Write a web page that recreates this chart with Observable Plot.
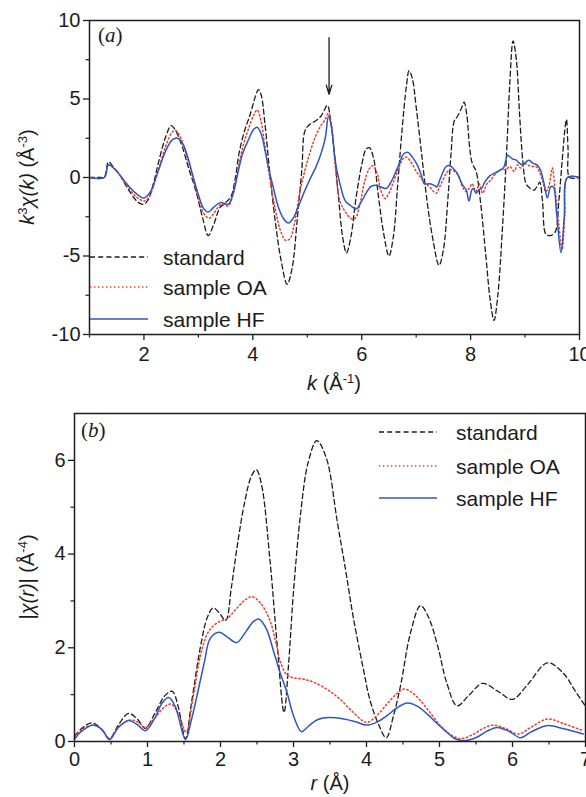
<!DOCTYPE html>
<html>
<head>
<meta charset="utf-8">
<script src="https://cdn.jsdelivr.net/npm/d3@7"></script>
<script src="https://cdn.jsdelivr.net/npm/@observablehq/plot@0.6"></script>
<style>
  html, body { margin: 0; padding: 0; background: #fff; }
  #root { position: relative; width: 586px; height: 797px; overflow: hidden; font-family: "Liberation Sans", Arial, sans-serif; }
  .panel { position: absolute; left: 0; }
  #overlay { position: absolute; left: 0; top: 0; pointer-events: none; }
</style>
</head>
<body>
<div id="root">
  <div id="pa" class="panel" style="top:0px"></div>
  <div id="pb" class="panel" style="top:395px"></div>
  <svg id="overlay" width="586" height="797"></svg>
</div>
<script>
// ---------- Panel (a): k^3 chi(k) ----------
const kTicks = [2, 4, 6, 8, 10];
const kMinor = [1, 3, 5, 7, 9];
const chiTicks = [-10, -5, 0, 5, 10];
const chiMinor = [-7.5, -2.5, 2.5, 7.5];
const arrowMark = [{k: 5.4, from: 8.9, to: 5.3}];

const standardA = [[1.0,0],[1.2,0],[1.27,0],[1.35,1.0],[1.45,0.6],[1.55,0.2],[1.72,-0.8],[1.9,-1.6],[2.0,-1.7],[2.08,-1.4],[2.18,-0.3],[2.27,1.0],[2.4,2.6],[2.5,3.3],[2.58,3.0],[2.7,2.0],[2.82,0.6],[2.95,-0.8],[3.08,-2.6],[3.18,-3.7],[3.28,-3.0],[3.4,-1.9],[3.5,-1.6],[3.6,-1.2],[3.68,0],[3.75,1.6],[3.85,3.0],[3.95,4.0],[4.05,5.2],[4.1,5.6],[4.15,5.3],[4.22,3.5],[4.32,0],[4.42,-3.0],[4.52,-5.3],[4.63,-6.8],[4.72,-5.8],[4.82,-2.5],[4.9,0.5],[4.96,3.0],[5.05,3.4],[5.15,3.6],[5.25,3.9],[5.3,4.2],[5.37,4.6],[5.43,3.6],[5.5,1.5],[5.58,-1.5],[5.65,-3.8],[5.72,-4.8],[5.8,-3.8],[5.9,-1.2],[6.0,0.8],[6.08,1.8],[6.14,1.9],[6.22,1.2],[6.3,-1.0],[6.4,-3.5],[6.5,-5.0],[6.58,-3.8],[6.66,-0.5],[6.74,3.0],[6.82,5.8],[6.87,6.8],[6.93,6.3],[7.0,4.5],[7.1,1.5],[7.2,-1.5],[7.3,-3.8],[7.42,-5.6],[7.5,-4.6],[7.58,-1.5],[7.64,1.5],[7.7,3.6],[7.76,3.9],[7.83,4.4],[7.88,4.8],[7.93,4.0],[7.98,2.0],[8.03,0.9],[8.1,0.4],[8.18,-1.5],[8.28,-5.0],[8.36,-7.8],[8.43,-9.1],[8.5,-7.5],[8.58,-3.5],[8.66,1.5],[8.72,6.0],[8.78,8.7],[8.84,7.5],[8.9,4.0],[8.96,1.0],[9.02,-0.4],[9.1,-0.7],[9.17,-0.8],[9.23,-0.5],[9.27,-0.3],[9.32,-1.5],[9.38,-3.6],[9.45,-3.7],[9.55,-3.5],[9.62,-1.5],[9.68,1.0],[9.73,3.0],[9.76,3.7],[9.79,1.8],[9.82,0],[10,0]];

const sampleOA_A = [[1.0,0],[1.27,0],[1.35,0.8],[1.5,0.4],[1.66,-0.4],[1.85,-1.2],[2.0,-1.5],[2.1,-1.2],[2.25,0.3],[2.4,2.0],[2.52,2.9],[2.58,3.0],[2.68,2.5],[2.8,1.2],[2.9,0],[3.0,-1.3],[3.1,-2.3],[3.2,-2.6],[3.3,-2.2],[3.42,-1.7],[3.55,-1.8],[3.64,-1.0],[3.72,0.4],[3.82,2.0],[3.92,3.1],[4.02,4.0],[4.08,4.3],[4.15,3.6],[4.22,2.0],[4.3,0.2],[4.4,-1.8],[4.5,-3.3],[4.6,-4.0],[4.68,-3.9],[4.76,-3.0],[4.86,-1.0],[4.96,0.5],[5.05,1.6],[5.15,2.6],[5.25,3.3],[5.33,3.7],[5.39,4.1],[5.45,3.2],[5.52,0.5],[5.6,-1.5],[5.7,-2.2],[5.8,-2.6],[5.88,-2.6],[5.96,-1.8],[6.05,-0.3],[6.13,0.5],[6.2,0.75],[6.28,0.3],[6.35,-0.8],[6.43,-1.35],[6.5,-1.0],[6.58,-0.3],[6.68,0.6],[6.76,1.2],[6.82,1.3],[6.9,1.0],[7.0,0.4],[7.08,0],[7.15,-0.3],[7.25,-0.6],[7.32,-0.9],[7.37,-1.0],[7.43,-0.6],[7.5,-0.1],[7.56,0.3],[7.62,0.5],[7.7,0.4],[7.78,0.1],[7.85,-0.6],[7.92,-0.9],[7.97,-0.7],[8.03,-0.4],[8.1,-0.9],[8.16,-0.4],[8.22,-1.0],[8.3,-0.4],[8.36,-0.2],[8.45,0.2],[8.55,0.5],[8.65,0.5],[8.72,0.7],[8.8,0.4],[8.86,0.8],[8.92,0.6],[8.98,0.9],[9.05,0.8],[9.12,0.7],[9.2,0.7],[9.27,0.3],[9.33,-0.3],[9.38,-0.9],[9.44,-0.5],[9.5,0.6],[9.55,-0.7],[9.62,-3.0],[9.68,-4.6],[9.73,-2.4],[9.78,0],[10,0]];

const sampleHF_A = [[1.0,0],[1.27,0],[1.35,0.8],[1.5,0.4],[1.66,-0.3],[1.85,-1.0],[2.0,-1.3],[2.12,-0.9],[2.27,0.5],[2.4,1.7],[2.52,2.4],[2.62,2.5],[2.72,2.1],[2.8,1.35],[2.9,0.1],[3.0,-1.1],[3.1,-2.0],[3.18,-2.2],[3.28,-1.9],[3.4,-1.6],[3.55,-1.7],[3.64,-1.0],[3.72,0.2],[3.81,1.5],[3.92,2.4],[4.0,3.0],[4.08,3.2],[4.15,2.8],[4.22,1.8],[4.29,0.6],[4.38,-0.7],[4.47,-1.9],[4.56,-2.6],[4.65,-2.9],[4.74,-2.6],[4.83,-1.9],[4.96,-0.8],[5.05,-0.1],[5.15,0.6],[5.25,1.5],[5.33,2.5],[5.39,3.9],[5.44,3.3],[5.52,0.9],[5.6,-0.4],[5.7,-1.5],[5.8,-1.8],[5.9,-2.0],[6.0,-1.5],[6.08,-1.0],[6.16,-0.6],[6.24,-0.5],[6.35,-0.6],[6.45,-0.7],[6.52,-0.4],[6.58,0],[6.68,0.8],[6.77,1.5],[6.85,1.6],[6.93,1.3],[7.02,0.8],[7.1,0.1],[7.15,-0.4],[7.25,-0.4],[7.33,-0.5],[7.38,-0.6],[7.43,-0.2],[7.5,0.4],[7.55,0.7],[7.62,0.75],[7.7,0.5],[7.75,0.3],[7.84,-0.4],[7.92,-0.8],[7.97,-1.5],[8.02,-0.8],[8.05,-0.7],[8.1,-1.0],[8.15,-0.8],[8.2,-0.7],[8.26,-0.3],[8.35,0.1],[8.45,0.3],[8.6,0.6],[8.68,1.4],[8.76,1.2],[8.84,1.1],[8.9,0.9],[8.96,0.8],[9.02,1.0],[9.07,1.1],[9.15,0.9],[9.22,0.8],[9.28,0.5],[9.35,-0.4],[9.41,-1.3],[9.47,-0.6],[9.52,-0.6],[9.58,-2.3],[9.66,-4.8],[9.72,-2.5],[9.78,0],[10,0]];

// ---------- Panel (b): |chi(r)| ----------
const rTicks = [0, 1, 2, 3, 4, 5, 6, 7];
const rMinor = [0.5, 1.5, 2.5, 3.5, 4.5, 5.5, 6.5];
const magTicks = [0, 2, 4, 6];
const magMinor = [1, 3, 5];

const standardB = [[0,0.12],[0.1,0.28],[0.24,0.4],[0.36,0.28],[0.48,0.06],[0.6,0.35],[0.74,0.6],[0.86,0.48],[0.97,0.28],[1.1,0.6],[1.24,0.98],[1.34,1.07],[1.42,0.75],[1.52,0.06],[1.6,0.8],[1.73,2.06],[1.82,2.65],[1.9,2.85],[1.98,2.75],[2.07,2.58],[2.15,3.3],[2.23,4.18],[2.33,5.1],[2.42,5.65],[2.49,5.8],[2.56,5.5],[2.68,3.83],[2.78,2.0],[2.87,0.62],[2.93,1.6],[3.0,3.2],[3.1,4.9],[3.2,5.95],[3.32,6.42],[3.45,6.05],[3.6,4.69],[3.72,3.6],[3.82,2.64],[3.95,1.6],[4.05,0.87],[4.17,0.35],[4.27,0.08],[4.37,0.55],[4.47,1.22],[4.6,2.3],[4.74,2.9],[4.85,2.65],[4.97,2.07],[5.1,1.25],[5.24,0.76],[5.4,0.98],[5.59,1.24],[5.8,1.07],[6.0,0.9],[6.2,1.2],[6.48,1.68],[6.7,1.45],[6.85,1.1],[7.0,0.75]];

const sampleOA_B = [[0,0.1],[0.1,0.25],[0.25,0.35],[0.37,0.26],[0.48,0.06],[0.6,0.3],[0.77,0.46],[0.88,0.4],[0.97,0.3],[1.1,0.5],[1.22,0.72],[1.32,0.8],[1.42,0.6],[1.53,0.2],[1.62,0.9],[1.72,1.8],[1.82,2.3],[1.91,2.48],[2.0,2.57],[2.09,2.62],[2.2,2.8],[2.32,3.0],[2.43,3.09],[2.55,2.95],[2.68,2.57],[2.76,2.1],[2.82,1.7],[2.91,1.42],[3.0,1.36],[3.14,1.33],[3.3,1.25],[3.48,1.09],[3.64,0.9],[3.8,0.65],[4.0,0.41],[4.14,0.55],[4.28,0.8],[4.4,1.0],[4.51,1.12],[4.62,1.05],[4.74,0.87],[4.88,0.6],[5.01,0.34],[5.15,0.15],[5.29,0.06],[5.47,0.16],[5.6,0.28],[5.74,0.35],[5.9,0.28],[6.08,0.16],[6.25,0.3],[6.48,0.48],[6.7,0.38],[6.97,0.23]];

const sampleHF_B = [[0,0.05],[0.1,0.22],[0.26,0.35],[0.38,0.25],[0.48,0.04],[0.6,0.3],[0.74,0.45],[0.86,0.36],[0.97,0.23],[1.1,0.5],[1.2,0.82],[1.29,0.94],[1.38,0.75],[1.52,0.04],[1.6,0.45],[1.68,0.99],[1.78,1.7],[1.86,2.2],[1.98,2.33],[2.1,2.22],[2.22,2.11],[2.35,2.35],[2.45,2.56],[2.53,2.61],[2.63,2.4],[2.73,1.91],[2.82,1.45],[2.91,1.05],[3.0,0.55],[3.11,0.21],[3.2,0.32],[3.32,0.46],[3.48,0.51],[3.69,0.48],[3.85,0.42],[4.0,0.35],[4.15,0.42],[4.28,0.55],[4.42,0.72],[4.56,0.82],[4.7,0.75],[4.83,0.59],[4.97,0.38],[5.1,0.2],[5.2,0.07],[5.3,0.02],[5.4,0.03],[5.51,0.09],[5.65,0.22],[5.79,0.3],[5.95,0.22],[6.11,0.08],[6.25,0.2],[6.48,0.34],[6.7,0.27],[6.97,0.16]];

const seriesNames = ["standard", "sample OA", "sample HF"];

// ---------- styles ----------
const INK = "#1c1c1c";
const seriesStyle = {
  "standard":  {stroke: "#1c1c1c", strokeWidth: 1.3, strokeDasharray: "5,3.2"},
  "sample OA": {stroke: "#ef3b2c", strokeWidth: 1.5, strokeDasharray: "1.4,2.6"},
  "sample HF": {stroke: "#2f56c2", strokeWidth: 1.5, strokeDasharray: null}
};
const FONT = "'Liberation Sans', Arial, sans-serif";

function lineMark(data, name) {
  const s = seriesStyle[name];
  return Plot.line(data, {
    x: d => d[0], y: d => d[1],
    stroke: s.stroke, strokeWidth: s.strokeWidth,
    strokeDasharray: s.strokeDasharray || undefined,
    curve: "catmull-rom"
  });
}

function axes(xt, xm, yt, ym, xPad) {
  return [
    Plot.axisX(xt, {tickSize: 6, tickPadding: xPad, strokeWidth: 1.3, stroke: INK, fill: INK, label: null, tickFormat: d => String(d), fontSize: 20}),
    Plot.axisX(xm, {tickSize: 3.5, strokeWidth: 1.2, stroke: INK, label: null, tickFormat: () => ""}),
    Plot.axisY(yt, {tickSize: 6, tickPadding: 3, strokeWidth: 1.3, stroke: INK, fill: INK, label: null, tickFormat: d => String(d), fontSize: 20}),
    Plot.axisY(ym, {tickSize: 3.5, strokeWidth: 1.2, stroke: INK, label: null, tickFormat: () => ""})
  ];
}

const plotA = Plot.plot({
  width: 586, height: 400,
  marginLeft: 89, marginRight: 7, marginTop: 20, marginBottom: 66,
  x: {domain: [1, 10]},
  y: {domain: [-10, 10]},
  style: {fontFamily: FONT, fontSize: "20px", color: INK, background: "transparent", overflow: "visible"},
  marks: [
    ...axes(kTicks, kMinor, chiTicks, chiMinor, 6),
    lineMark(standardA, "standard"),
    lineMark(sampleOA_A, "sample OA"),
    lineMark(sampleHF_A, "sample HF"),
    Plot.arrow(arrowMark, {x1: "k", y1: "from", x2: "k", y2: "to", stroke: INK, strokeWidth: 1.3, headLength: 11, headAngle: 34}),
    Plot.frame({stroke: INK, strokeWidth: 1.5})
  ]
});
document.getElementById("pa").appendChild(plotA);

const plotB = Plot.plot({
  width: 586, height: 402,
  marginLeft: 74, marginRight: 1, marginTop: 18, marginBottom: 56,
  x: {domain: [0, 7]},
  y: {domain: [0, 7]},
  style: {fontFamily: FONT, fontSize: "20px", color: INK, background: "transparent", overflow: "visible"},
  marks: [
    ...axes(rTicks, rMinor, magTicks, magMinor, 4),
    lineMark(standardB, "standard"),
    lineMark(sampleOA_B, "sample OA"),
    lineMark(sampleHF_B, "sample HF"),
    Plot.frame({stroke: INK, strokeWidth: 1.5})
  ]
});
document.getElementById("pb").appendChild(plotB);

// ---------- overlay: titles, panel labels, legends ----------
const ov = d3.select("#overlay");
const ns = ov.append("g").attr("font-family", FONT).attr("fill", INK);

function richText(g, parts, attrs) {
  const t = g.append("text");
  Object.entries(attrs).forEach(([k, v]) => t.attr(k, v));
  parts.forEach(p => {
    const ts = t.append("tspan").text(p.t);
    if (p.i) ts.attr("font-style", "italic");
    if (p.sup) ts.attr("baseline-shift", "super").attr("font-size", "13px");
    if (p.serif) ts.attr("font-family", "'Liberation Serif', 'DejaVu Serif', serif");
  });
  return t;
}

// x titles
richText(ns, [{t: "k", i: true}, {t: " (Å"}, {t: "-1", sup: true}, {t: ")"}],
  {x: 334, y: 390, "text-anchor": "middle", "font-size": "20px"});
richText(ns, [{t: "r", i: true}, {t: " (Å)"}],
  {x: 330, y: 790, "text-anchor": "middle", "font-size": "20px"});

// y titles
richText(ns, [{t: "k", i: true}, {t: "3", sup: true}, {t: "χ(", i: true}, {t: "k", i: true}, {t: ")", i: true}, {t: " (Å"}, {t: "-3", sup: true}, {t: ")"}],
  {transform: "translate(34,177) rotate(-90)", "text-anchor": "middle", "font-size": "20px"});
richText(ns, [{t: "|"}, {t: "χ(", i: true}, {t: "r", i: true}, {t: ")", i: true}, {t: "| (Å"}, {t: "-4", sup: true}, {t: ")"}],
  {transform: "translate(34,577) rotate(-90)", "text-anchor": "middle", "font-size": "20px"});

// panel labels
richText(ns, [{t: "(", serif: true}, {t: "a", serif: true, i: true}, {t: ")", serif: true}],
  {x: 98, y: 42, "font-size": "21px"});
richText(ns, [{t: "(", serif: true}, {t: "b", serif: true, i: true}, {t: ")", serif: true}],
  {x: 81, y: 437, "font-size": "21px"});

// legends
function legend(x0, x1, tx, ys, fs) {
  seriesNames.forEach((name, i) => {
    const s = seriesStyle[name];
    const ln = ov.append("line").attr("x1", x0).attr("x2", x1).attr("y1", ys[i]).attr("y2", ys[i])
      .attr("stroke", s.stroke).attr("stroke-width", s.strokeWidth);
    if (s.strokeDasharray) ln.attr("stroke-dasharray", s.strokeDasharray);
    ov.append("text").attr("x", tx).attr("y", ys[i]).attr("dy", "0.36em")
      .attr("font-family", FONT).attr("font-size", fs).attr("fill", INK).text(name);
  });
}
legend(90, 148, 163, [257, 287, 319], "21px");
legend(379, 437, 456, [432, 466, 498], "21px");
</script>
</body>
</html>
